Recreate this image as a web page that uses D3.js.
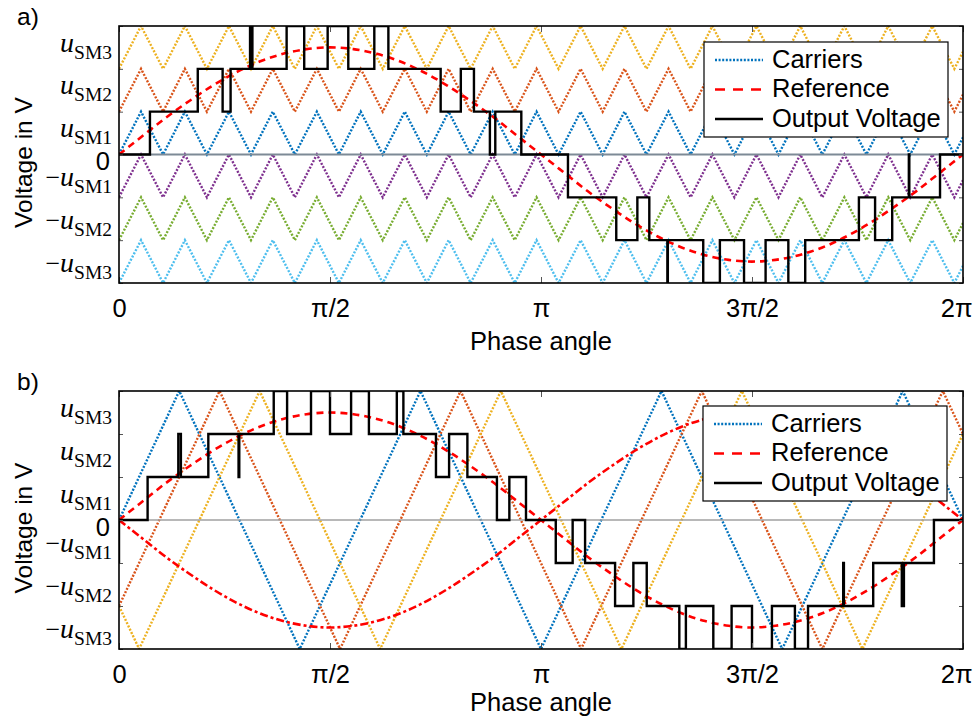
<!DOCTYPE html>
<html>
<head>
<meta charset="utf-8">
<script src="https://cdn.jsdelivr.net/npm/d3@7"></script>
<style>
  html, body { margin: 0; padding: 0; background: #ffffff; }
  svg { display: block; font-family: "Liberation Sans", Arial, sans-serif; }
</style>
</head>
<body>
<svg id="chart" width="974" height="718"></svg>
<script>
// ---- axis ticks (phase in degrees, levels in sub-module voltages) ----
const phaseTicks = [0, 90, 180, 270, 360];
const phaseTickLabels = ["0", "π/2", "π", "3π/2", "2π"];
const levelTicks = [3, 2, 1, 0, -1, -2, -3];
const levelTickLabels = ["u_SM3", "u_SM2", "u_SM1", "0", "−u_SM1", "−u_SM2", "−u_SM3"];
const legendLabels = ["Carriers", "Reference", "Output Voltage"];
const panelLabels = ["a)", "b)"];

// ---- sinusoidal references ----
const refPhase = [0, 10, 20, 30, 40, 50, 60, 70, 80, 90, 100, 110, 120, 130, 140, 150, 160, 170, 180,
  190, 200, 210, 220, 230, 240, 250, 260, 270, 280, 290, 300, 310, 320, 330, 340, 350, 360];
const refValue = [0, 0.43, 0.86, 1.25, 1.61, 1.92, 2.17, 2.35, 2.46, 2.50, 2.46, 2.35, 2.17, 1.92, 1.61, 1.25, 0.86, 0.43, 0,
  -0.43, -0.86, -1.25, -1.61, -1.92, -2.17, -2.35, -2.46, -2.50, -2.46, -2.35, -2.17, -1.92, -1.61, -1.25, -0.86, -0.43, 0];
const refValueInverted = [0, -0.43, -0.86, -1.25, -1.61, -1.92, -2.17, -2.35, -2.46, -2.50, -2.46, -2.35, -2.17, -1.92, -1.61, -1.25, -0.86, -0.43, 0,
  0.43, 0.86, 1.25, 1.61, 1.92, 2.17, 2.35, 2.46, 2.50, 2.46, 2.35, 2.17, 1.92, 1.61, 1.25, 0.86, 0.43, 0];

// ---- a) level-shifted carriers: shared vertex phases, normalised height within each band ----
const pdCarrierPhase = [0, 9.4, 18.8, 28.1, 37.5, 46.9, 56.3, 65.6, 75.0, 84.4, 93.8, 103.1, 112.5, 121.9,
  131.3, 140.6, 150.0, 159.4, 168.8, 178.1, 187.5, 196.9, 206.3, 215.6, 225.0, 234.4, 243.8, 253.1,
  262.5, 271.9, 281.3, 290.6, 300.0, 309.4, 318.8, 328.1, 337.5, 346.9, 356.3, 360];
const pdCarrierShape = [0, 1, 0, 1, 0, 1, 0, 1, 0, 1, 0, 1, 0, 1, 0, 1, 0, 1, 0, 1,
  0, 1, 0, 1, 0, 1, 0, 1, 0, 1, 0, 1, 0, 1, 0, 1, 0, 1, 0, 0.4];
const pdCarrierBands = [[2, 3], [1, 2], [0, 1], [-1, 0], [-2, -1], [-3, -2]];

// ---- b) phase-shifted carriers: [phase, value] vertices ----
const psCarrier1 = [[0, 0], [25.7, 3], [77.1, -3], [128.6, 3], [180, -3], [231.4, 3], [282.9, -3], [334.3, 3], [360, 0]];
const psCarrier2 = [[0, -2], [42.9, 3], [94.3, -3], [145.7, 3], [197.1, -3], [248.6, 3], [300, -3], [351.4, 3], [360, 2]];
const psCarrier3 = [[0, -2], [8.6, -3], [60, 3], [111.4, -3], [162.9, 3], [214.3, -3], [265.7, 3], [317.1, -3], [360, 2]];

// ---- output voltage: switching instants and the level held after each ----
const outPhaseA = [0, 13.2, 33.6, 44.2, 47.6, 55.9, 56.9, 71.5, 79.0, 89.0, 97.8, 108.9, 114.9, 137.2, 145.8,
  151.4, 158.2, 160.5, 171.6, 191.5, 212.1, 221.1, 226.2, 233.9, 234.1, 249.2, 256.3, 266.6, 275.8,
  285.5, 292.7, 315.6, 322.5, 329.8, 336.9, 337.1, 350.2, 360];
const outLevelA = [0, 1, 2, 1, 2, 3, 2, 3, 2, 3, 2, 3, 2, 1, 2,
  1, 0, 1, 0, -1, -2, -1, -2, -3, -2, -3, -2, -3, -2,
  -3, -2, -1, -2, -1, 0, -1, 0, 0];
const outPhaseB = [0, 0, 12.2, 25.3, 26.4, 38.1, 51.0, 51.3, 66.0, 71.7, 81.9, 90.0, 99.0, 106.6, 118.5,
  121.3, 135.2, 140.8, 148.6, 161.2, 166.5, 173.6, 186.3, 193.5, 198.8, 211.6, 219.4, 225.1, 239.0,
  241.8, 253.5, 261.3, 270.0, 278.5, 288.3, 293.9, 308.9, 309.2, 321.7, 333.9, 334.8, 347.6, 360];
const outLevelB = [-1, 0, 1, 2, 1, 2, 1, 2, 3, 2, 3, 2, 3, 2, 3,
  2, 1, 2, 1, 0, 1, 0, -1, 0, -1, -2, -1, -2, -3,
  -2, -3, -2, -3, -2, -3, -2, -1, -2, -1, -2, -1, 0, 0];

// ---- styling ----
const carrierColors = ["#EDB120", "#D95319", "#0072BD", "#7E2F8E", "#77AC30", "#4DBEEE"];
const psColors = ["#0072BD", "#D95319", "#EDB120"];
const DOT = "2,1.6";
const DASH = "7,5";
const FONT = 25.5;
const SANS = "'Liberation Sans', Arial, sans-serif";
const SERIF = "'Liberation Serif', 'DejaVu Serif', serif";

const svg = d3.select("#chart");
const x = d3.scaleLinear().domain([0, 360]).range([119, 963]);

function drawPanel(opt) {
  const { top, bottom, idx } = opt;
  const y = d3.scaleLinear().domain([-3, 3]).range([bottom, top]);
  const g = svg.append("g");
  const clipId = "clip" + idx;
  g.append("clipPath").attr("id", clipId)
    .append("rect").attr("x", x(0)).attr("y", top).attr("width", x(360) - x(0)).attr("height", bottom - top);

  const plot = g.append("g").attr("clip-path", `url(#${clipId})`);
  const line = d3.line().x(d => x(d[0])).y(d => y(d[1]));

  // carriers
  opt.carriers.forEach(c => {
    plot.append("path").attr("d", line(c.pts)).attr("fill", "none")
      .attr("stroke", c.color).attr("stroke-width", 2.4).attr("stroke-dasharray", DOT);
  });

  // zero line
  plot.append("line").attr("x1", x(0)).attr("x2", x(360)).attr("y1", y(0)).attr("y2", y(0))
    .attr("stroke", opt.zeroColor).attr("stroke-width", opt.zeroWidth);

  // references
  const refLine = d3.line().x(d => x(d[0])).y(d => y(d[1])).curve(d3.curveMonotoneX);
  opt.refs.forEach(r => {
    plot.append("path").attr("d", refLine(refPhase.map((p, i) => [p, r.values[i]])))
      .attr("fill", "none").attr("stroke", "#FF0000").attr("stroke-width", 2.6)
      .attr("stroke-dasharray", r.dash);
  });

  // output voltage
  const stepLine = d3.line().x(d => x(d[0])).y(d => y(d[1])).curve(d3.curveStepAfter);
  plot.append("path").attr("d", stepLine(opt.outPhase.map((p, i) => [p, opt.outLevel[i]])))
    .attr("fill", "none").attr("stroke", "#000").attr("stroke-width", 2.4);

  // x axis (bottom, labelled) and mirrored ticks on top
  const xb = g.append("g").attr("transform", `translate(0,${bottom})`)
    .call(d3.axisBottom(x).tickValues(phaseTicks).tickFormat((d, i) => phaseTickLabels[i])
      .tickSizeInner(-6).tickSizeOuter(0).tickPadding(16));
  xb.select(".domain").remove();
  xb.selectAll("line").attr("stroke", "#555");
  xb.selectAll("text").style("font-size", FONT + "px").style("font-family", SANS).attr("fill", "#000");
  // the last label sits flush with the right edge of the figure
  xb.selectAll("text").filter(d => d === 360).attr("text-anchor", "end").attr("x", 972 - x(360));
  const xt = g.append("g").attr("transform", `translate(0,${top})`)
    .call(d3.axisTop(x).tickValues(phaseTicks).tickFormat("").tickSizeInner(-6).tickSizeOuter(0));
  xt.select(".domain").remove();
  xt.selectAll("line").attr("stroke", "#555");

  // y axis with sub-module voltage labels
  const yl = g.append("g").attr("transform", `translate(${x(0)},0)`)
    .call(d3.axisLeft(y).tickValues(levelTicks).tickFormat((d, i) => levelTickLabels[i])
      .tickSizeInner(-4).tickSizeOuter(0).tickPadding(7));
  yl.select(".domain").remove();
  yl.selectAll("line").attr("stroke", "#555");
  yl.selectAll("text").each(function (d, i) {
    const t = d3.select(this);
    const lab = levelTickLabels[i];
    t.text(null).attr("dy", null).attr("fill", "#000");
    if (lab === "0") {
      t.attr("y", 15).attr("x", -9).style("font-size", FONT + "px").style("font-family", SANS).text("0");
      return;
    }
    const m = lab.match(/^(−?)u_(\w+)$/);
    t.attr("y", d > 0 ? 25 : -12).style("font-family", SERIF);
    if (m[1]) t.append("tspan").style("font-size", "26px").text(m[1]);
    t.append("tspan").style("font-size", "28px").style("font-style", "italic").text("u");
    t.append("tspan").style("font-size", "19.5px").attr("dy", 7).text(m[2]);
  });
  const yr = g.append("g").attr("transform", `translate(${x(360)},0)`)
    .call(d3.axisRight(y).tickValues(levelTicks).tickFormat("").tickSizeInner(-4).tickSizeOuter(0));
  yr.select(".domain").remove();
  yr.selectAll("line").attr("stroke", "#555");

  // axes box
  g.append("rect").attr("x", x(0)).attr("y", top).attr("width", x(360) - x(0)).attr("height", bottom - top)
    .attr("fill", "none").attr("stroke", "#000").attr("stroke-width", 1.6);

  // axis titles and panel label
  g.append("text").attr("x", x(180)).attr("y", bottom + opt.titleGap).attr("text-anchor", "middle")
    .style("font-size", FONT + "px").text("Phase angle");
  g.append("text").attr("transform", `translate(32,${(top + bottom) / 2 + 8}) rotate(-90)`)
    .attr("text-anchor", "middle").style("font-size", "24.5px").text("Voltage in V");
  g.append("text").attr("x", 17).attr("y", top - 1).style("font-size", "24.5px").text(panelLabels[idx]);

  // legend
  const lg = g.append("g").attr("transform", `translate(${opt.legend[0]},${opt.legend[1]})`);
  lg.append("rect").attr("width", 244).attr("height", 95).attr("fill", "#fff")
    .attr("stroke", "#000").attr("stroke-width", 1.2);
  const styles = [
    { color: "#0072BD", dash: DOT, w: 2.4 },
    { color: "#FF0000", dash: "10,8", w: 2.6 },
    { color: "#000", dash: null, w: 2.4 }
  ];
  legendLabels.forEach((lab, i) => {
    const cy = 18 + i * 29.5;
    lg.append("line").attr("x1", 11).attr("x2", 59).attr("y1", cy).attr("y2", cy)
      .attr("stroke", styles[i].color).attr("stroke-width", styles[i].w)
      .attr("stroke-dasharray", styles[i].dash);
    lg.append("text").attr("x", 68).attr("y", cy + 7.5).style("font-size", FONT + "px").text(lab);
  });
}

drawPanel({
  idx: 0, top: 26, bottom: 283, titleGap: 67,
  carriers: pdCarrierBands.map((b, k) => ({
    color: carrierColors[k],
    pts: pdCarrierPhase.map((p, i) => [p, b[0] + (b[1] - b[0]) * pdCarrierShape[i]])
  })),
  refs: [{ values: refValue, dash: DASH }],
  outPhase: outPhaseA, outLevel: outLevelA,
  zeroColor: "#7d8a96", zeroWidth: 2,
  legend: [704, 42]
});

drawPanel({
  idx: 1, top: 391, bottom: 649, titleGap: 62,
  carriers: [psCarrier1, psCarrier2, psCarrier3].map((pts, k) => ({ color: psColors[k], pts })),
  refs: [{ values: refValue, dash: DASH }, { values: refValueInverted, dash: "8,3,3,3" }],
  outPhase: outPhaseB, outLevel: outLevelB,
  zeroColor: "#a0a0a0", zeroWidth: 1.6,
  legend: [703, 406]
});
</script>
</body>
</html>
